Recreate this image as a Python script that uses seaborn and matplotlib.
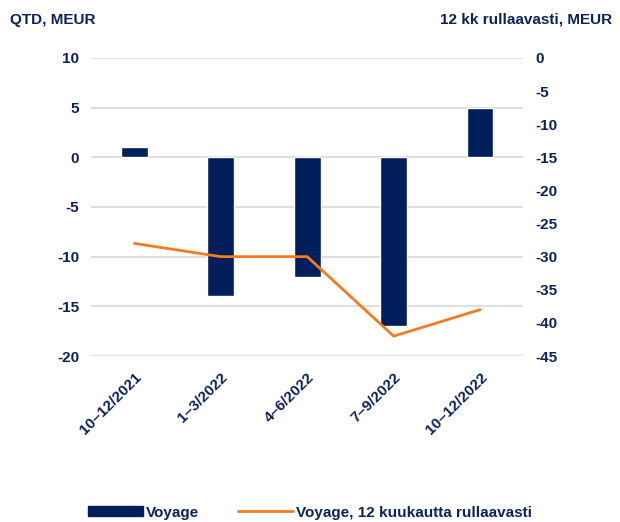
import matplotlib
matplotlib.use("Agg")
import matplotlib.pyplot as plt
import seaborn as sns
import pandas as pd
import numpy as np
from matplotlib.patches import Patch
from matplotlib.lines import Line2D

# data
quarters = ["10–12/2021", "1–3/2022", "4–6/2022", "7–9/2022", "10–12/2022"]
qtd_values = [1, -14, -12, -17, 5]
rolling_12m = [-28, -30, -30, -42, -38]

navy = "#001F5B"
orange = "#F47B20"
text_col = "#0B2358"

sns.set_theme(style="white")
plt.rcParams["font.family"] = ["Liberation Sans", "DejaVu Sans"]
plt.rcParams["font.weight"] = "bold"
plt.rcParams["axes.unicode_minus"] = False

df = pd.DataFrame({"quarter": quarters, "qtd": qtd_values,
                   "rolling": rolling_12m, "pos": np.arange(len(quarters))})

fig = plt.figure(figsize=(6.2, 5.22), dpi=100)
ax1 = fig.add_axes([0.147, 0.318, 0.697, 0.571])

sns.barplot(data=df, x="quarter", y="qtd", color=navy, width=0.31,
            saturation=1, ax=ax1, zorder=3)
ax1.set_ylim(-20, 10)
ax1.set_yticks(np.arange(-20, 11, 5))
ax1.yaxis.grid(True, color="#D9D9D9", linewidth=1.2, zorder=0)
ax1.set_axisbelow(True)
ax1.set_xlabel("")
ax1.set_ylabel("")
ax1.tick_params(axis="both", length=0, labelsize=11, colors=text_col)
ax1.tick_params(axis="y", pad=8.6)
ax1.tick_params(axis="x", pad=10)
for lab in ax1.get_xticklabels():
    lab.set_rotation(45)
    lab.set_ha("right")
    lab.set_rotation_mode("anchor")
    lab.set_fontweight("bold")
for lab in ax1.get_yticklabels():
    lab.set_fontweight("bold")

ax2 = ax1.twinx()
sns.lineplot(data=df, x="pos", y="rolling", color=orange, linewidth=2,
             ax=ax2, zorder=4)
ax2.set_ylim(-45, 0)
ax2.set_yticks(np.arange(-45, 1, 5))
ax2.set_ylabel("")
ax2.set_xlabel("")
ax2.tick_params(axis="y", length=0, labelsize=11, colors=text_col, pad=8.6)
for lab in ax2.get_yticklabels():
    lab.set_fontweight("bold")
ax2.set_xlim(-0.5, len(quarters) - 0.5)

for a in (ax1, ax2):
    for s in a.spines.values():
        s.set_visible(False)

fig.text(0.016, 0.962, "QTD, MEUR", fontsize=11, fontweight="bold",
         color=text_col, ha="left", va="center")
fig.text(0.987, 0.962, "12 kk rullaavasti, MEUR", fontsize=11,
         fontweight="bold", color=text_col, ha="right", va="center")

handles = [Patch(facecolor=navy, edgecolor=navy),
           Line2D([0], [0], color=orange, linewidth=2)]
leg = fig.legend(handles, ["Voyage", "Voyage, 12 kuukautta rullaavasti"],
                 loc="center", bbox_to_anchor=(0.5, 0.018), ncol=2,
                 frameon=False, fontsize=11, handlelength=3.6,
                 handleheight=0.6, columnspacing=2.6, handletextpad=0.2)
for t in leg.get_texts():
    t.set_color(text_col)
    t.set_fontweight("bold")

fig.savefig("out.png", dpi=100)
